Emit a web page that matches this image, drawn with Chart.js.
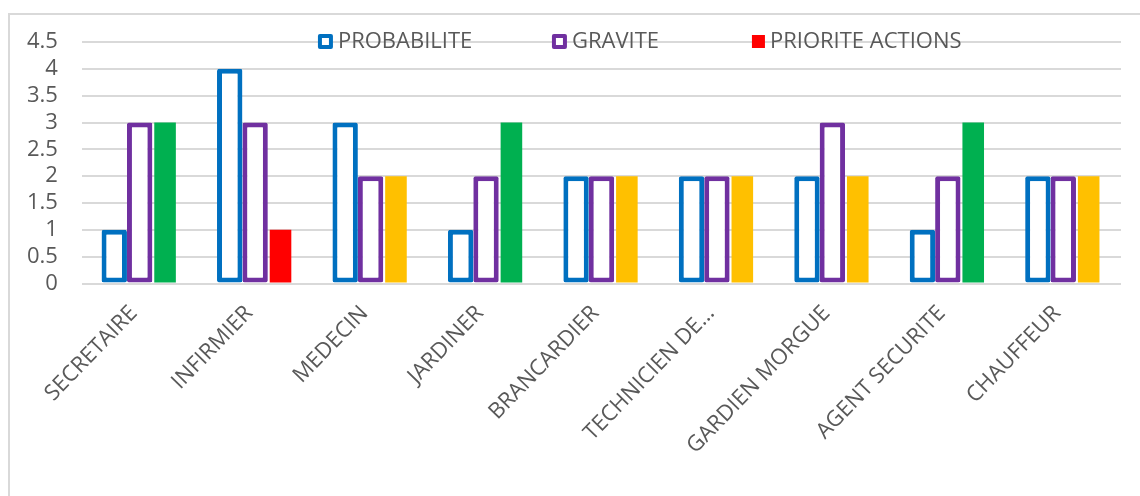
<!DOCTYPE html>
<html>
<head>
<meta charset="utf-8">
<script src="https://cdn.jsdelivr.net/npm/chart.js@4.4.1/dist/chart.umd.min.js"></script>
<style>
  html, body { margin: 0; padding: 0; background: #fff; overflow: hidden; }
  #wrap { position: relative; width: 1140px; height: 496px; }
  #frame { position: absolute; left: 8px; top: 13px; width: 1200px; height: 600px;
           border: 2px solid #d9d9d9; box-sizing: border-box; }
  canvas { position: absolute; left: 0; top: 0; }
</style>
</head>
<body>
<div id="wrap">
  <div id="frame"></div>
  <canvas id="chart" width="1140" height="496"></canvas>
</div>
<script>
// Postes évalués
const categories = ['SECRETAIRE', 'INFIRMIER', 'MEDECIN', 'JARDINER', 'BRANCARDIER',
                    'TECHNICIEN DE…', 'GARDIEN MORGUE', 'AGENT SECURITE', 'CHAUFFEUR'];

// Cotations par poste
const probabilite     = [1, 4, 3, 1, 2, 2, 2, 1, 2];
const gravite         = [3, 3, 2, 2, 2, 2, 3, 2, 2];
const prioriteActions = [3, 1, 2, 3, 2, 2, 2, 3, 2];

// Couleur de priorité par poste (vert / rouge / jaune)
const prioriteColors = ['#00B050', '#FF0000', '#FFC000', '#00B050', '#FFC000',
                        '#FFC000', '#FFC000', '#00B050', '#FFC000'];

// Graduations de l'axe vertical
const yTicks = [0, 0.5, 1, 1.5, 2, 2.5, 3, 3.5, 4, 4.5];

const seriesNames = ['PROBABILITE', 'GRAVITE', 'PRIORITE ACTIONS'];

const FONT = "'Open Sans', 'DejaVu Sans', sans-serif";
const TEXT = '#595959';
const GRID = '#d9d9d9';

// Légende dessinée dans la zone du graphique, sur la ligne du haut
const plotLegend = {
  id: 'plotLegend',
  afterDraw(chart) {
    const { ctx, chartArea } = chart;
    const items = [
      { text: seriesNames[0], stroke: '#0070C0', fill: '#ffffff', offset: 236 },
      { text: seriesNames[1], stroke: '#7030A0', fill: '#ffffff', offset: 470 },
      { text: seriesNames[2], stroke: null, fill: '#FF0000', offset: 668 }
    ];
    const cy = chartArea.top - 1;
    ctx.save();
    ctx.font = '22px ' + FONT;
    ctx.textBaseline = 'middle';
    items.forEach(it => {
      const x = chartArea.left + it.offset;
      if (it.stroke) {
        ctx.fillStyle = it.stroke;
        ctx.beginPath();
        ctx.roundRect(x, cy - 7, 15, 15, 2);
        ctx.fill();
        ctx.fillStyle = '#ffffff';
        ctx.fillRect(x + 4, cy - 3, 7, 7);
      } else {
        ctx.fillStyle = it.fill;
        ctx.fillRect(x + 2, cy - 6, 13, 13);
      }
      ctx.fillStyle = TEXT;
      ctx.fillText(it.text, x + 20, cy + 1);
    });
    ctx.restore();
  }
};

new Chart(document.getElementById('chart'), {
  type: 'bar',
  data: {
    labels: categories,
    datasets: [
      {
        label: seriesNames[0],
        data: probabilite,
        backgroundColor: '#ffffff',
        borderColor: '#0070C0',
        borderWidth: 5,
        borderSkipped: false,
        borderRadius: 2,
        barPercentage: 1.0,
        categoryPercentage: 0.66
      },
      {
        label: seriesNames[1],
        data: gravite,
        backgroundColor: '#ffffff',
        borderColor: '#7030A0',
        borderWidth: 5,
        borderSkipped: false,
        borderRadius: 2,
        barPercentage: 1.0,
        categoryPercentage: 0.66
      },
      {
        label: seriesNames[2],
        data: prioriteActions,
        backgroundColor: prioriteColors,
        borderWidth: 0,
        barPercentage: 0.85,
        categoryPercentage: 0.66
      }
    ]
  },
  options: {
    responsive: false,
    animation: false,
    devicePixelRatio: 1,
    layout: { autoPadding: false, padding: { left: 3, right: 19, top: 42, bottom: 20 } },
    plugins: {
      legend: { display: false },
      tooltip: { enabled: false }
    },
    scales: {
      x: {
        grid: { display: false, drawTicks: false },
        border: { display: false },
        afterFit(scale) {
          // les libellés inclinés débordent dans la marge de l'axe vertical
          scale.paddingLeft = 0;
          scale.paddingRight = 0;
        },
        ticks: {
          color: TEXT,
          font: { family: FONT, size: 22 },
          minRotation: 46,
          maxRotation: 46,
          autoSkip: false,
          padding: 17,
          labelOffset: -6
        }
      },
      y: {
        min: 0,
        max: 4.5,
        afterBuildTicks(scale) {
          scale.ticks = yTicks.map(v => ({ value: v }));
        },
        grid: { color: GRID, lineWidth: 2, drawTicks: false },
        border: { display: false },
        ticks: {
          color: TEXT,
          font: { family: FONT, size: 22 },
          padding: 24,
          autoSkip: false,
          callback: v => String(v)
        }
      }
    }
  },
  plugins: [plotLegend]
});
</script>
</body>
</html>
